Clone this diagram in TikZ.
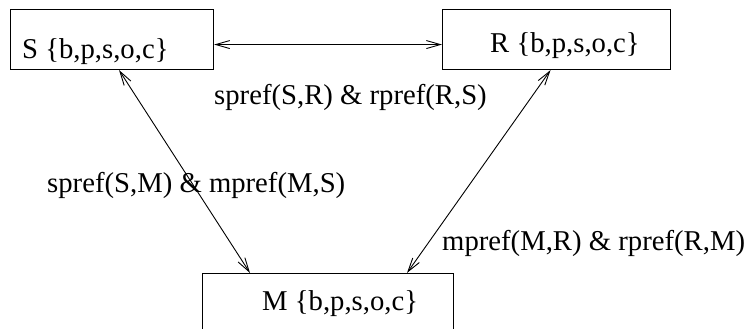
\documentclass[tikz,border=0pt]{standalone}
\usepackage{fontspec}
\setmainfont{Liberation Serif}
\usetikzlibrary{arrows.meta}
\tikzset{
  box/.style={draw, line width=1.1pt, inner sep=0pt, anchor=north west},
  lbl/.style={inner sep=0pt, anchor=base west, font=\fontsize{28.7}{34}\selectfont},
  link/.style={line width=0.9pt, {Straight Barb[length=14pt,width=8pt]}-{Straight Barb[length=14pt,width=8pt]}}
}
\begin{document}
\begin{tikzpicture}[x=1pt, y=-1pt]
  \useasboundingbox (0,0) rectangle (748,329);
  \clip (0,0) rectangle (748,329);
  % the three role boxes
  \node[box, minimum width=203pt, minimum height=60pt] (S) at (10,9) {};
  \node[box, minimum width=228pt, minimum height=60pt] (R) at (442,9) {};
  \node[box, minimum width=251pt, minimum height=80pt] (M) at (202,273) {};
  % their contents
  \node[lbl] (Stxt) at (22,59) {S \{b,p,s,o,c\}};
  \node[lbl] (Rtxt) at (490,53) {R \{b,p,s,o,c\}};
  \node[lbl] (Mtxt) at (262,310) {M \{b,p,s,o,c\}};
  % preference links
  \draw[link] ([yshift=-5pt]S.east) -- ([yshift=-5pt]R.west);
  \draw[link] ([xshift=7pt]S.south) -- ([xshift=48pt]M.north west);
  \draw[link] ([xshift=-6pt]R.south) -- ([xshift=205pt]M.north west);
  % link labels
  \node[lbl] (lSR) at (214,105) {spref(S,R) \& rpref(R,S)};
  \node[lbl] (lSM) at (47,192) {spref(S,M) \& mpref(M,S)};
  \node[lbl] (lMR) at (442,250) {mpref(M,R) \& rpref(R,M)};
\end{tikzpicture}
\end{document}
